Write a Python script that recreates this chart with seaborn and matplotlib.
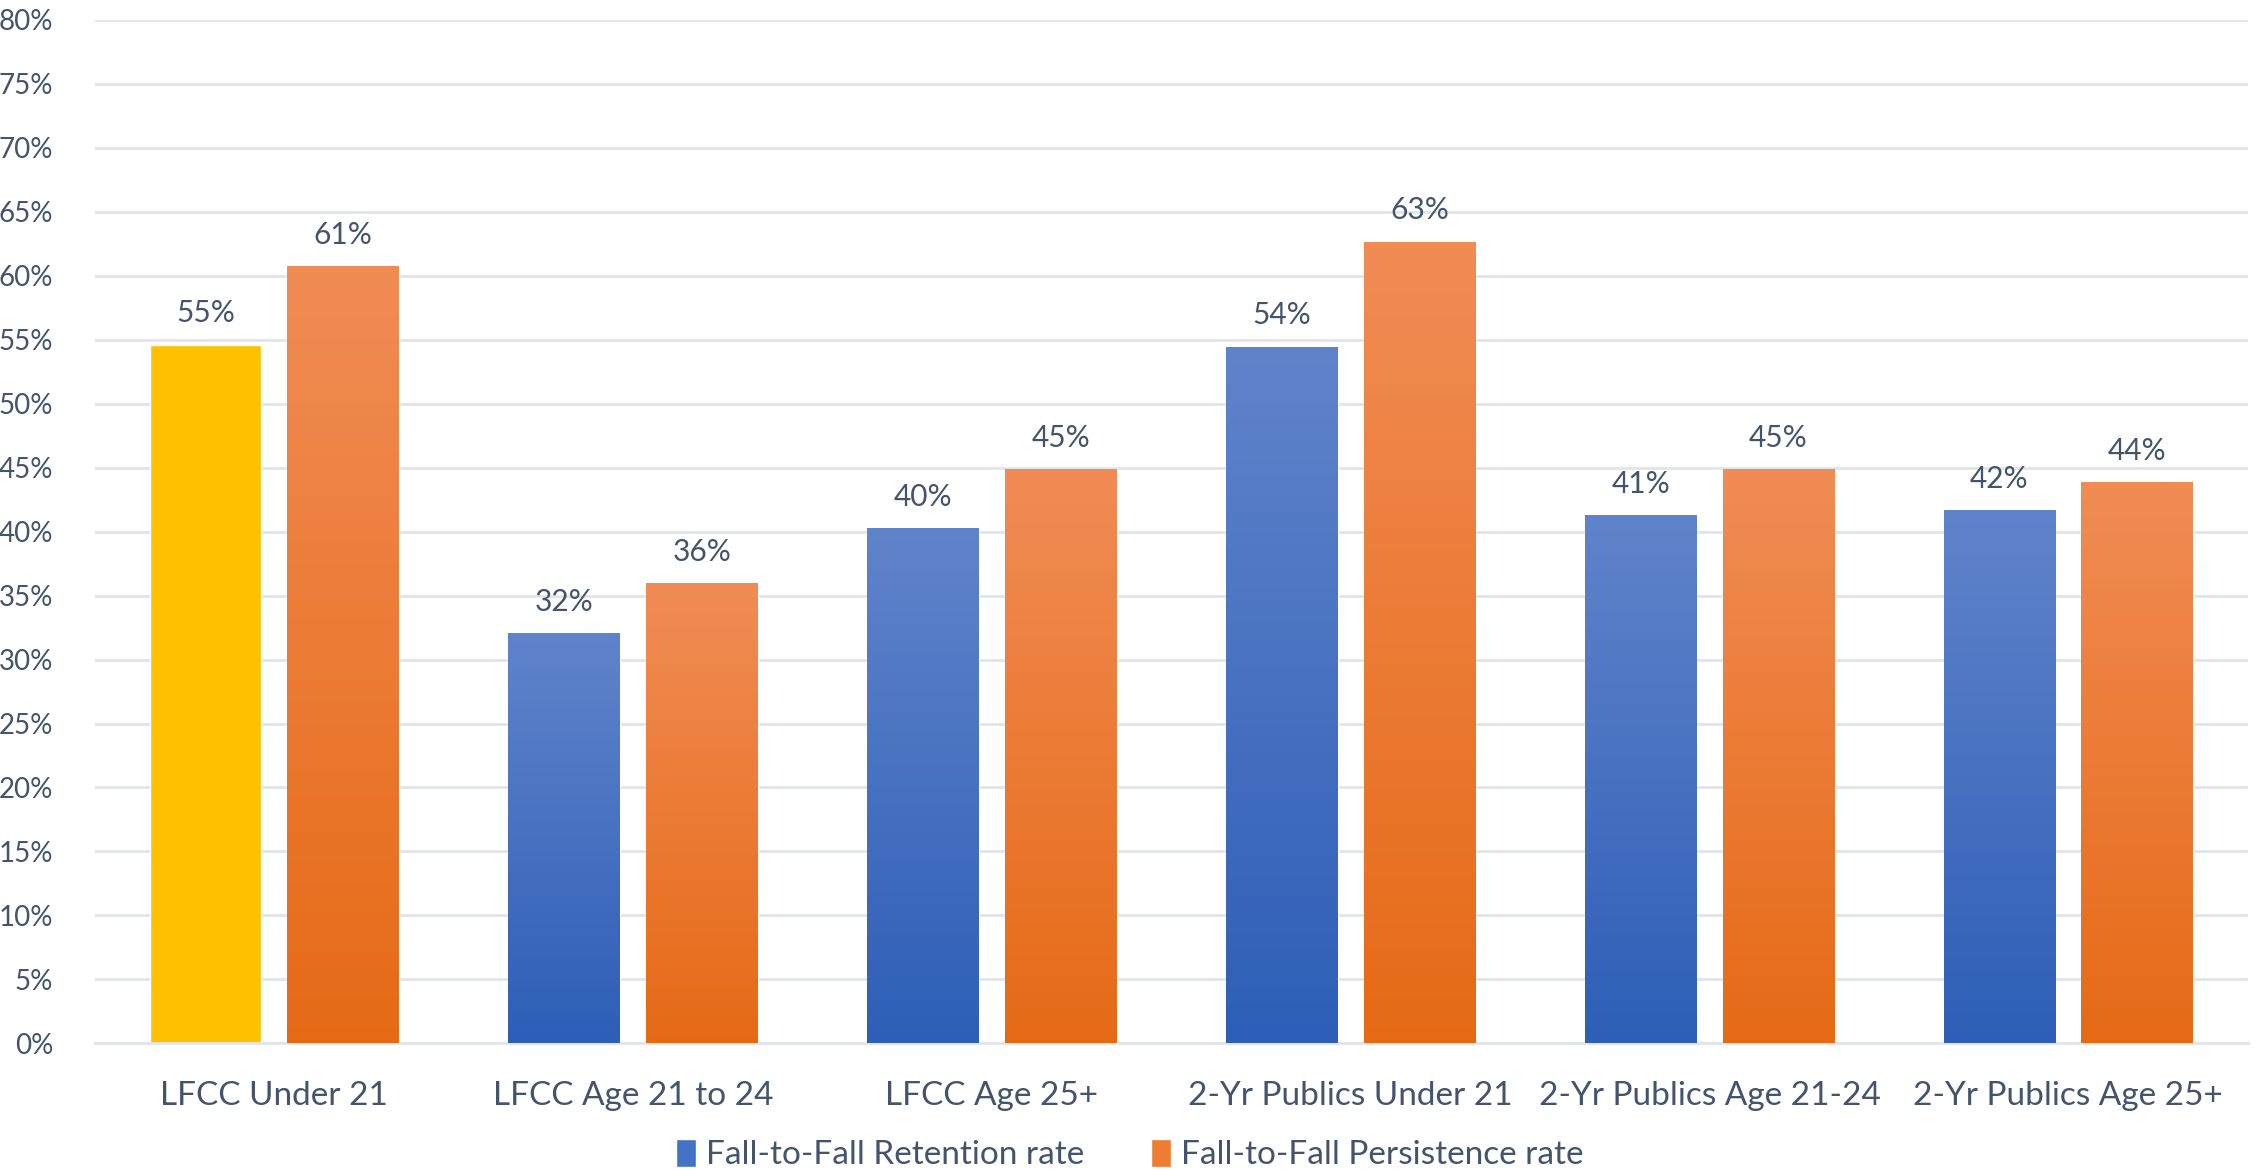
import numpy as np
import pandas as pd
import matplotlib
matplotlib.use("Agg")
import matplotlib.pyplot as plt
from matplotlib.colors import LinearSegmentedColormap
from matplotlib.patches import Patch
import seaborn as sns

# data (percent)
groups = ["LFCC Under 21", "LFCC Age 21 to 24", "LFCC Age 25+",
          "2-Yr Publics Under 21", "2-Yr Publics Age 21-24", "2-Yr Publics Age 25+"]
retention = [54.6, 32.0, 40.2, 54.4, 41.2, 41.6]
persistence = [60.7, 35.9, 44.8, 62.6, 44.8, 43.8]
series = ["Fall-to-Fall Retention rate", "Fall-to-Fall Persistence rate"]
yticks = list(range(0, 85, 5))

df = pd.DataFrame({
    "group": groups * 2,
    "rate": retention + persistence,
    "series": [series[0]] * len(groups) + [series[1]] * len(groups),
})

text_col = "#44546A"
blue_top, blue_bot = "#6084CB", "#2E5EB7"
orange_top, orange_bot = "#F18C55", "#E66A16"
gold = "#FFC000"

sns.set_style("white")
plt.rcParams["font.family"] = ["Lato", "DejaVu Sans"]

fig = plt.figure(figsize=(22.59, 11.71), dpi=100)
ax = fig.add_axes([0.042, 0.109, 0.953, 0.874])

sns.barplot(data=df, x="group", y="rate", hue="series", hue_order=series,
            palette=[blue_bot, orange_bot], width=0.768, gap=0.19,
            legend=False, ax=ax, zorder=2)

# gradient fill for every bar, first bar is a solid highlight
cmaps = [LinearSegmentedColormap.from_list("b", [blue_bot, blue_top]),
         LinearSegmentedColormap.from_list("o", [orange_bot, orange_top])]
grad = np.linspace(0, 1, 256).reshape(-1, 1)
for ci, cont in enumerate(ax.containers):
    for bi, bar in enumerate(cont):
        x0, w, h = bar.get_x(), bar.get_width(), bar.get_height()
        if ci == 0 and bi == 0:
            bar.set_facecolor(gold)
            continue
        ax.imshow(grad, cmap=cmaps[ci], origin="lower", aspect="auto",
                  extent=[x0, x0 + w, 0, h], zorder=3)
    ax.bar_label(cont, labels=[f"{round(v):d}%" for v in cont.datavalues],
                 padding=13, fontsize=21.5, color=text_col, zorder=4)

ax.set_xlim(-0.5, len(groups) - 0.5)
ax.set_ylim(0, 80)
ax.set_yticks(yticks)
ax.set_yticklabels([f"{t}%" for t in yticks])
ax.yaxis.grid(True, color="#E1E5EA", linewidth=2, zorder=0)
ax.set_axisbelow(True)
for s in ["top", "right", "left"]:
    ax.spines[s].set_visible(False)
ax.spines["bottom"].set_color("#E1E5EA")
ax.spines["bottom"].set_linewidth(2)
ax.tick_params(axis="y", labelsize=20, colors=text_col, length=0, pad=30)
ax.tick_params(axis="x", labelsize=24, colors=text_col, length=0, pad=27)
ax.set_xlabel("")
ax.set_ylabel("")

handles = [Patch(facecolor="#4472C4", label=series[0]),
           Patch(facecolor="#ED7D31", label=series[1])]
fig.legend(handles=handles, loc="center", bbox_to_anchor=(0.5, 0.014), ncol=2,
           frameon=False, fontsize=24, labelcolor=text_col, handlelength=0.6,
           handleheight=0.9, handletextpad=0.3, columnspacing=2.0)

fig.savefig("out.png", dpi=100)
